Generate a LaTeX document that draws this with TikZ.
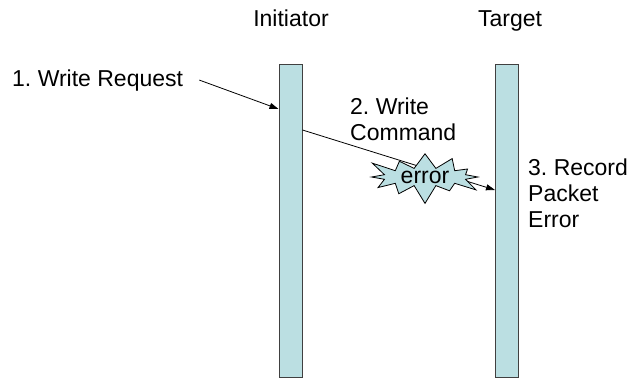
\documentclass[tikz,border=0pt]{standalone}
\usepackage{fontspec}
\setmainfont{Liberation Sans}
\usetikzlibrary{shapes.symbols,arrows.meta}

\definecolor{barblue}{RGB}{187,223,226}
\definecolor{bardark}{RGB}{64,64,64}

\tikzset{
  lifeline/.style={draw=bardark, line width=1pt, fill=barblue,
    minimum width=23pt, minimum height=313pt, inner sep=0pt},
  txt/.style={inner sep=0pt, font=\fontsize{23}{26}\selectfont\frenchspacing},
  msg/.style={-{Triangle[length=9pt,width=6pt]}, line width=0.8pt},
  burst/.style={starburst, draw, fill=barblue, line width=0.8pt,
    minimum width=124pt, minimum height=54pt, inner sep=0pt,
    starburst points=12, starburst point height=20pt}
}

\begin{document}
\begin{tikzpicture}[x=1pt, y=-1pt]

\useasboundingbox (0,0) rectangle (631,378);

% lifelines
\node[lifeline] (init) at (290.5, 220.5) {};
\node[lifeline] (tgt)  at (507, 220.5) {};

\node[txt, anchor=base] (inithead) at (291, 26) {Initiator};
\node[txt, anchor=base] (tgthead)  at (510, 26) {Target};

% messages
\node[txt, anchor=base west] (req) at (12, 86) {1. Write Request};
\draw[msg] ([xshift=16pt]req.east) -- (init.west |- 0,109);

% base anchor sits on the last line
\node[txt, anchor=base west, align=left] (cmd) at (350, 140) {2. Write\\Command};
\coordinate (cmdstart) at (init.east |- 0,130);
\coordinate (cmdend)   at (tgt.west |- 0,190);
\draw[msg] (cmdstart) -- (cmdend);

\node[burst] (err) at (425, 177) {\fontsize{23}{26}\selectfont error};

\node[txt, anchor=base west, align=left] (rec) at (528, 227) {3. Record\\Packet\\Error};

\end{tikzpicture}
\end{document}
